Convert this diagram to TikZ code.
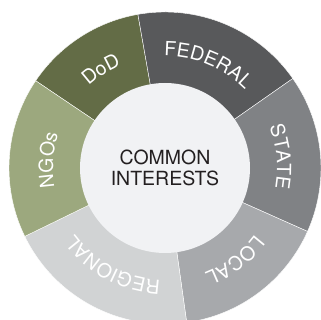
\documentclass[tikz,border=0pt]{standalone}
\usepackage{fontspec}
\setmainfont{TeX Gyre Heros}
\usetikzlibrary{decorations.text}

\definecolor{dodgreen}{HTML}{636C46}
\definecolor{ngogreen}{HTML}{9CA87E}
\definecolor{fedgray}{HTML}{58595B}
\definecolor{stategray}{HTML}{808285}
\definecolor{localgray}{HTML}{A7A9AC}
\definecolor{regiongray}{HTML}{D1D3D4}
\definecolor{corefill}{HTML}{F1F2F4}
\definecolor{coretext}{HTML}{231F20}

\begin{document}
\begin{tikzpicture}[
  seg/.style={draw=white, line width=0.4pt},
  ringlabel/.style={
    decorate,
    decoration={text along path, text align=center,
      text={|\color{white}\fontsize{19.5}{19.5}\selectfont|#1}}
  },
  core/.style={
    circle,
    fill=corefill,
    minimum size=170pt,
    inner sep=0pt,
    align=center,
    text=coretext,
    font=\fontsize{19.5}{21}\selectfont
  }
]
\useasboundingbox[fill=white] (-165pt,-152pt) rectangle (156pt,168pt);

% six sectors of the ring
\fill[seg, fill=dodgreen]   (0,0) -- (146:156pt) arc[start angle=146, end angle=100, radius=156pt] -- cycle;
\fill[seg, fill=fedgray]    (0,0) -- (100:156pt) arc[start angle=100, end angle=35, radius=156pt] -- cycle;
\fill[seg, fill=stategray]  (0,0) -- (35:156pt) arc[start angle=35, end angle=-24, radius=156pt] -- cycle;
\fill[seg, fill=localgray]  (0,0) -- (-24:156pt) arc[start angle=-24, end angle=-82, radius=156pt] -- cycle;
\fill[seg, fill=regiongray] (0,0) -- (-82:156pt) arc[start angle=-82, end angle=-154, radius=156pt] -- cycle;
\fill[seg, fill=ngogreen]   (0,0) -- (206:156pt) arc[start angle=206, end angle=146, radius=156pt] -- cycle;

% labels along the ring (clockwise)
\path[ringlabel=DoD]      (146:112pt) arc[start angle=146, end angle=100, radius=112pt];
\path[ringlabel=FEDERAL]  (100:112pt) arc[start angle=100, end angle=35, radius=112pt];
\path[ringlabel=STATE]    (35:112pt) arc[start angle=35, end angle=-24, radius=112pt];
\path[ringlabel=LOCAL]    (-24:112pt) arc[start angle=-24, end angle=-82, radius=112pt];
\path[ringlabel=REGIONAL] (-82:112pt) arc[start angle=-82, end angle=-154, radius=112pt];
\path[ringlabel=NGOs]     (206:112pt) arc[start angle=206, end angle=146, radius=112pt];

\node[core] (common) at (0,0) {COMMON\\INTERESTS};

\end{tikzpicture}
\end{document}
